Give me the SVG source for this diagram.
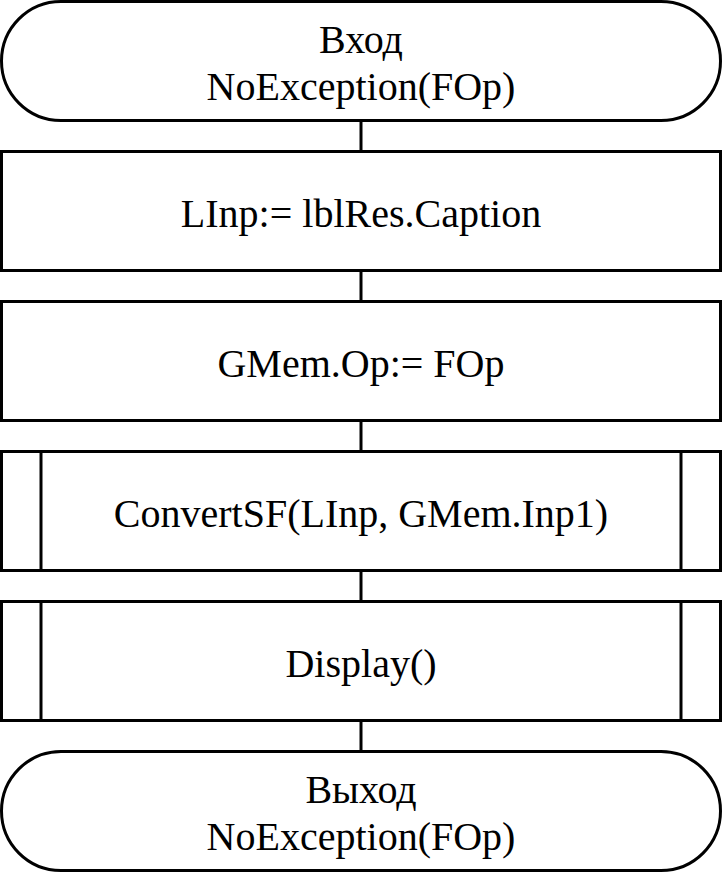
<svg xmlns="http://www.w3.org/2000/svg" width="723" height="873" viewBox="0 0 723 873">
<style>
.s{fill:#fff;stroke:#000;stroke-width:3}
.l{stroke:#000;stroke-width:3;fill:none}
.t{font-size:40px;fill:#000;text-anchor:middle}
</style>
<rect width="723" height="873" fill="#fff"/>
<g id="connectors">
<line class="l" x1="361" y1="120" x2="361" y2="151"/>
<line class="l" x1="361" y1="270" x2="361" y2="301"/>
<line class="l" x1="361" y1="420" x2="361" y2="451"/>
<line class="l" x1="361" y1="570" x2="361" y2="601"/>
<line class="l" x1="361" y1="720" x2="361" y2="751"/>
</g>
<g font-family="'Liberation Serif', 'Times New Roman', serif">
<g id="start">
<rect class="s" x="1.5" y="1.5" width="719" height="119" rx="59.5"/>
<text class="t" x="361" y="53">Вход</text>
<text class="t" x="361" y="100">NoException(FOp)</text>
</g>
<g id="n1">
<rect class="s" x="1.5" y="151.5" width="719" height="119"/>
<text class="t" x="361" y="227">LInp:= lblRes.Caption</text>
</g>
<g id="n2">
<rect class="s" x="1.5" y="301.5" width="719" height="119"/>
<text class="t" x="361" y="377">GMem.Op:= FOp</text>
</g>
<g id="n3">
<rect class="s" x="1.5" y="451.5" width="719" height="119"/>
<line class="l" x1="41" y1="451.5" x2="41" y2="570.5"/>
<line class="l" x1="681" y1="451.5" x2="681" y2="570.5"/>
<text class="t" x="361" y="527">ConvertSF(LInp, GMem.Inp1)</text>
</g>
<g id="n4">
<rect class="s" x="1.5" y="601.5" width="719" height="119"/>
<line class="l" x1="41" y1="601.5" x2="41" y2="720.5"/>
<line class="l" x1="681" y1="601.5" x2="681" y2="720.5"/>
<text class="t" x="361" y="677">Display()</text>
</g>
<g id="end">
<rect class="s" x="1.5" y="751.5" width="719" height="119" rx="59.5"/>
<text class="t" x="361" y="803">Выход</text>
<text class="t" x="361" y="850">NoException(FOp)</text>
</g>
</g>
</svg>
